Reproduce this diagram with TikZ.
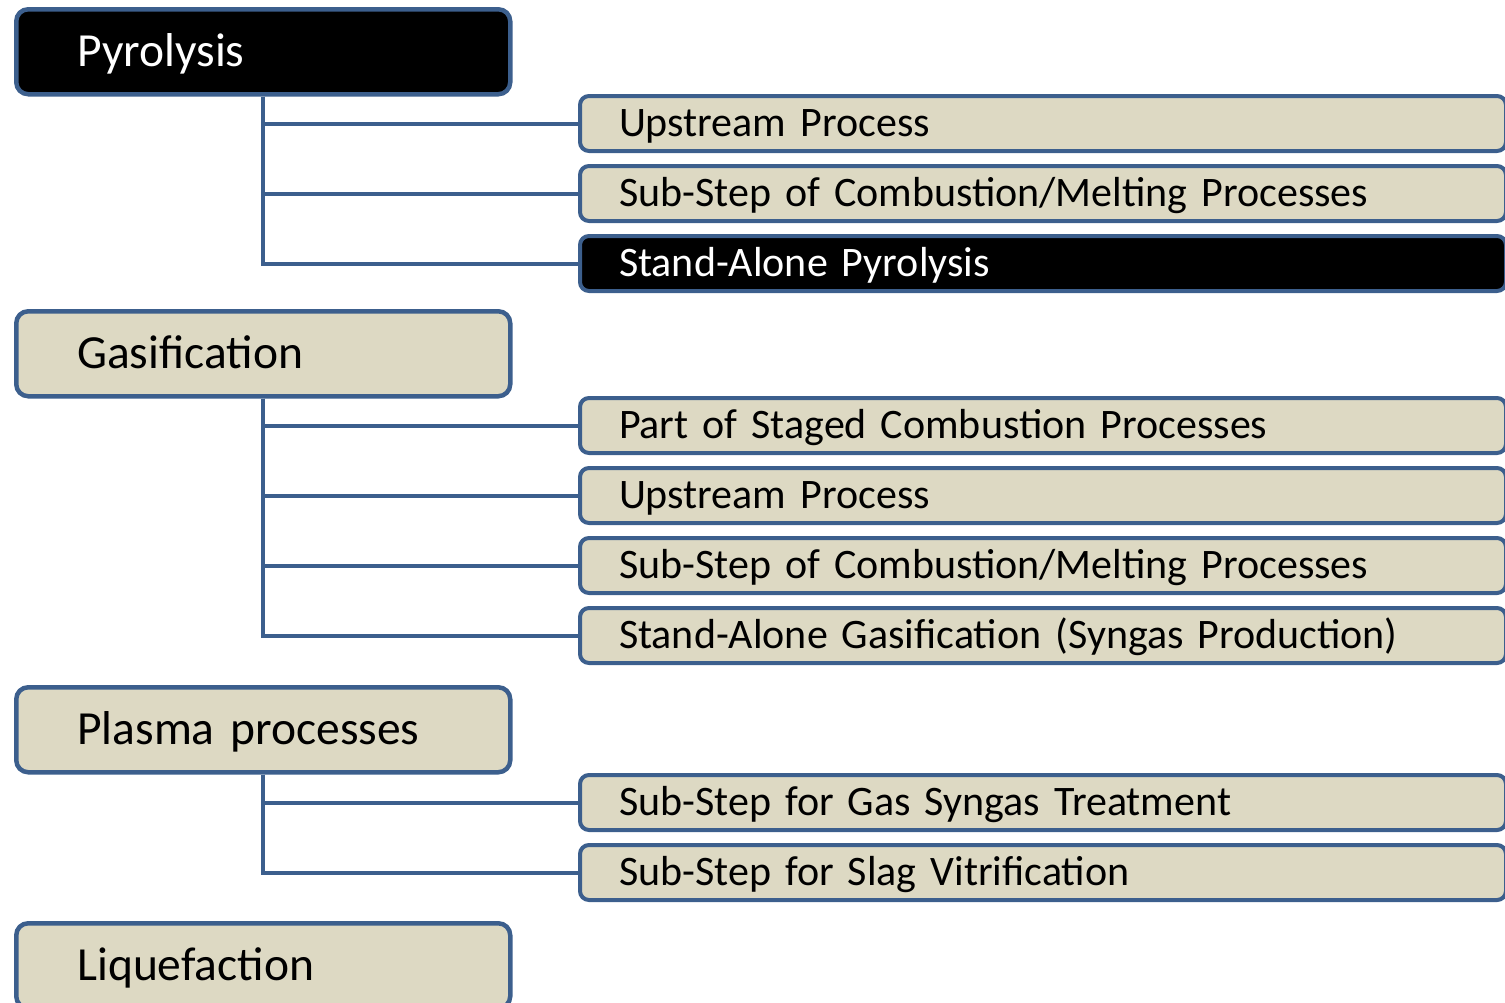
\documentclass[tikz,border=0pt]{standalone}
\usepackage{fontspec}
\setmainfont{Carlito}
\definecolor{bordblue}{HTML}{3C5F8D}
\definecolor{beige}{HTML}{DDD9C3}
\begin{document}
\begin{tikzpicture}[x=1pt,y=-1pt,
  parentbox/.style={draw=bordblue, line width=4.5pt, rounded corners=12pt, fill=beige,
    anchor=north west, minimum width=494pt, minimum height=85pt, inner xsep=61pt,
    text width=372pt, align=left, font=\fontsize{47.5}{52}\selectfont, text height=38pt, text depth=8pt},
  childbox/.style={draw=bordblue, line width=4pt, rounded corners=9pt, fill=beige,
    anchor=north west, minimum width=926pt, minimum height=55pt, inner xsep=39pt,
    text width=848pt, align=left, font=\fontsize{42}{48}\selectfont, text height=32pt, text depth=7pt},
  dark/.style={fill=black, text=white},
  link/.style={draw=bordblue, line width=4pt}]
\useasboundingbox (0,0) rectangle (1505,1002);
% parents
\node[parentbox, dark] (pyr) at (14,7) {Pyrolysis};
\node[parentbox] (gas) at (14,309) {Gasification};
\node[parentbox] (pla) at (14,685) {Plasma processes};
\node[parentbox] (liq) at (14,921) {Liquefaction};
% children of pyrolysis
\node[childbox] (p1) at (578,94) {Upstream Process};
\node[childbox] (p2) at (578,164) {Sub-Step of Combustion/Melting Processes};
\node[childbox, dark] (p3) at (578,234) {Stand-Alone Pyrolysis};
% children of gasification
\node[childbox] (g1) at (578,396) {Part of Staged Combustion Processes};
\node[childbox] (g2) at (578,466) {Upstream Process};
\node[childbox] (g3) at (578,536) {Sub-Step of Combustion/Melting Processes};
\node[childbox] (g4) at (578,606) {Stand-Alone Gasification (Syngas Production)};
% children of plasma
\node[childbox] (s1) at (578,773) {Sub-Step for Gas Syngas Treatment};
\node[childbox] (s2) at (578,843) {Sub-Step for Slag Vitrification};
% connectors
\foreach \c in {p1,p2,p3} \draw[link] (pyr.south) |- (\c.west);
\foreach \c in {g1,g2,g3,g4} \draw[link] (gas.south) |- (\c.west);
\foreach \c in {s1,s2} \draw[link] (pla.south) |- (\c.west);
\end{tikzpicture}
\end{document}
